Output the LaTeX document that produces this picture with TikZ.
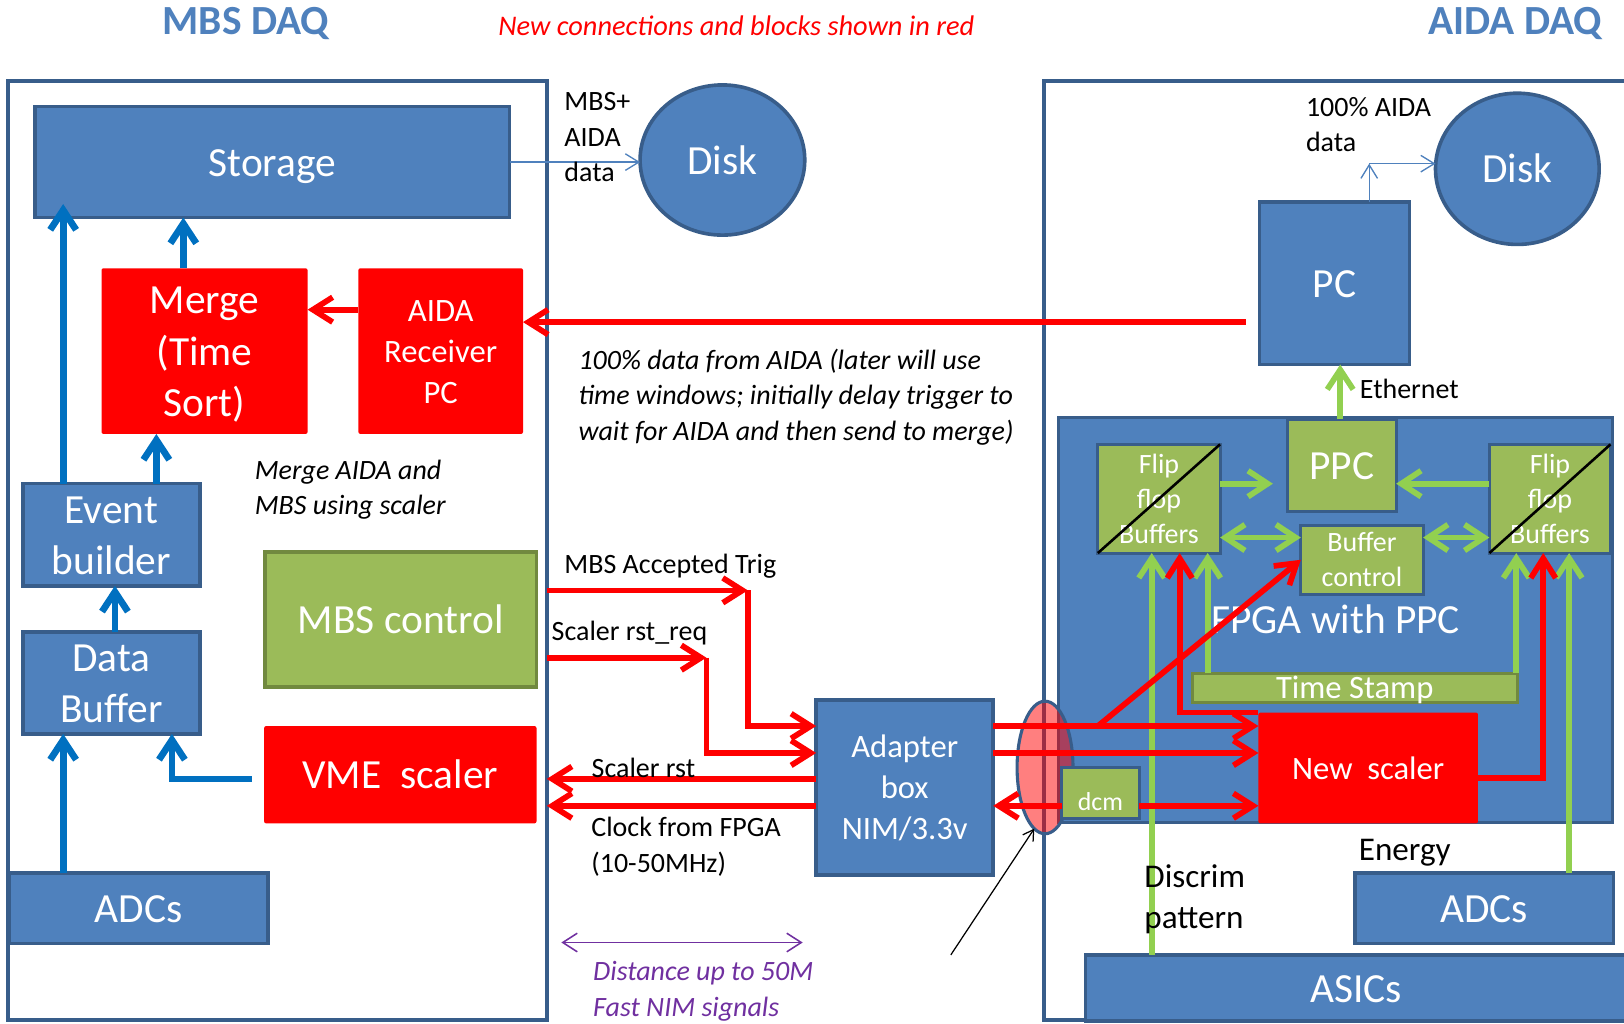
\documentclass[tikz,border=0pt]{standalone}
\usepackage{fontspec}
\setmainfont{Carlito}
\usetikzlibrary{arrows.meta,shapes.geometric}
\definecolor{bfill}{HTML}{4F81BD}
\definecolor{bline}{HTML}{385D8A}
\definecolor{gfill}{HTML}{9BBB59}
\definecolor{gline}{HTML}{71893F}
\definecolor{rfill}{HTML}{FF0000}
\definecolor{barrow}{HTML}{0070C0}
\definecolor{garrow}{HTML}{92D050}
\definecolor{purp}{HTML}{7030A0}
\newcommand\pst{\rule[-0.27em]{0pt}{1.22em}}
\begin{document}
\begin{tikzpicture}[x=1pt,y=-1pt,
  big/.style={font=\fontsize{40}{48.8}\selectfont},
  mid/.style={font=\fontsize{31.5}{38.4}\selectfont},
  small/.style={font=\fontsize{27}{32.9}\selectfont},
  smallit/.style={font=\fontsize{27}{32.9}\selectfont\itshape},
  box/.style={rectangle, inner sep=0pt, outer sep=0pt, anchor=north west, align=center, text=white, line width=3.5pt},
  frame/.style={rectangle, inner sep=0pt, outer sep=0pt, anchor=north west, draw=bline, line width=4pt},
  bluebox/.style={box, fill=bfill, draw=bline},
  greenbox/.style={box, fill=gfill, draw=gline},
  greenbbox/.style={box, fill=gfill, draw=bline, line width=3pt},
  redbox/.style={box, fill=rfill, rounded corners=2pt},
  disk/.style={ellipse, inner sep=0pt, outer sep=0pt, fill=bfill, draw=bline, line width=3.5pt, text=white},
  lbl/.style={inner sep=0pt, outer sep=0pt, anchor=north west, align=left},
  redarr/.style={draw=rfill, line width=5.5pt, -{Straight Barb[length=19pt,width=24pt]}},
  bluearr/.style={draw=barrow, line width=6.5pt, -{Straight Barb[length=19pt,width=25pt]}},
  greenarr/.style={draw=garrow, line width=5.5pt, -{Straight Barb[length=19pt,width=25pt]}},
  greendbl/.style={draw=garrow, line width=5.5pt, {Straight Barb[length=19pt,width=25pt]}-{Straight Barb[length=19pt,width=25pt]}},
  thinarr/.style={draw=bfill, line width=1.3pt, -{Straight Barb[length=13pt,width=16pt]}},
  purparr/.style={draw=purp, line width=1.5pt, {Straight Barb[length=14pt,width=18pt]}-{Straight Barb[length=14pt,width=18pt]}},
  blackarr/.style={draw=black, line width=1.2pt, -{Straight Barb[length=10pt,width=12pt]}}
]
\useasboundingbox (0,0) rectangle (1568,988);
\clip (0,0) rectangle (1568,988);

% titles
\node[anchor=base, font=\bfseries\fontsize{40}{48}\selectfont, text=bfill] (tmbs) at (237.5,33) {MBS DAQ};
\node[anchor=base, font=\bfseries\fontsize{40}{48}\selectfont, text=bfill] (taida) at (1463,33) {AIDA DAQ};
\node[anchor=base west, inner sep=0pt, font=\fontsize{27.4}{33}\selectfont\itshape, text=rfill] (tnew) at (481,34) {New connections and blocks shown in red};

% outer frames
\node[frame, minimum width=520pt, minimum height=907pt] (mbsbox) at (8,78) {};
\node[frame, minimum width=600pt, minimum height=907pt] (aidabox) at (1008,78) {};

% MBS side boxes
\node[bluebox, big, minimum width=458pt, minimum height=107pt] (storage) at (34,103) {\pst Storage};
\node[disk, big, minimum width=159pt, minimum height=145pt] (disk1) at (697.5,154.5) {\pst Disk};
\node[redbox, big, minimum width=199pt, minimum height=160pt] (merge) at (98,259) {\pst Merge\\\pst(Time\\\pst Sort)};
\node[redbox, mid, minimum width=159pt, minimum height=160pt] (recv) at (346,259) {\pst AIDA\\\pst Receiver\\\pst PC};
\node[bluebox, big, minimum width=171pt, minimum height=89pt] (event) at (22,467) {\pst Event\\\pst builder};
\node[bluebox, big, minimum width=171pt, minimum height=88pt] (databuf) at (22,610) {\pst Data\\\pst Buffer};
\node[bluebox, big, minimum width=250pt, minimum height=68pt] (adcs1) at (9,843) {\pst ADCs};
\node[greenbox, big, minimum width=262pt, minimum height=130pt] (mbsctl) at (256,533) {\pst MBS control};
\node[redbox, big, minimum width=263pt, minimum height=94pt] (vme) at (255,701) {\pst VME\ \ scaler};

% middle
\node[bluebox, mid, minimum width=171pt, minimum height=169pt] (adapter) at (788,676) {\pst Adapter\\\pst box\\\pst NIM/3.3v};

% AIDA side
\node[bluebox, big, minimum width=145pt, minimum height=157pt] (pc) at (1216,195) {\pst PC};
\node[disk, big, minimum width=158pt, minimum height=146pt] (disk2) at (1465,163) {\pst Disk};
\node[bluebox, big, minimum width=535pt, minimum height=391pt] (fpga) at (1022,403) {\pst FPGA with PPC};
\node[greenbbox, big, minimum width=105pt, minimum height=89pt] (ppc) at (1243,405) {\pst PPC};
\node[greenbbox, small, minimum width=118pt, minimum height=105pt] (ffl) at (1060,429) {\pst Flip\\\pst flop\\\pst Buffers};
\node[greenbbox, small, minimum width=117pt, minimum height=105pt] (ffr) at (1438,429) {\pst Flip\\\pst flop\\\pst Buffers};
\node[greenbbox, small, minimum width=118pt, minimum height=65pt] (bufctl) at (1256,507) {\pst Buffer\\\pst control};
\node[greenbox, mid, line width=3pt, minimum width=314pt, minimum height=28pt, text height=21.4pt, text depth=0pt] (tstamp) at (1151,650) {Time Stamp};
\node[redbox, mid, minimum width=212pt, minimum height=107pt] (newsc) at (1215,688) {\pst New\ \ scaler};
\node[bluebox, big, minimum width=250pt, minimum height=68pt] (adcs2) at (1308,843) {\pst ADCs};
\node[bluebox, big, minimum width=523pt, minimum height=64pt] (asics) at (1048,922) {\pst ASICs};

% connector ellipse and dcm
\node[ellipse, inner sep=0pt, outer sep=0pt, minimum width=54pt, minimum height=128pt, fill=rfill, fill opacity=0.5, draw=bline, draw opacity=1, line width=3pt] (ell) at (1009,741) {};
\node[greenbbox, font=\fontsize{25}{30}\selectfont, minimum width=75pt, minimum height=49pt, text height=40pt, text depth=6pt] (dcm) at (1025,741) {dcm};

% green connectors
\draw[greenarr] (asics.north -| 1112,0) -- (ffl.south -| 1112,0);
\draw[greenarr] (tstamp.north -| 1166,0) -- (ffl.south -| 1166,0);
\draw[greenarr] (tstamp.north -| 1464,0) -- (ffr.south -| 1464,0);
\draw[greenarr] (adcs2.north -| 1515,0) -- (ffr.south -| 1515,0);
\draw[greenarr, shorten >=14pt] (ffl.east |- 0,467) -- (ppc.west |- 0,467);
\draw[greenarr] (ffr.west |- 0,467) -- (ppc.east |- 0,467);
\draw[greendbl] (ffl.east |- 0,519) -- (bufctl.west |- 0,519);
\draw[greendbl] (bufctl.east |- 0,519) -- (ffr.west |- 0,519);
\draw[greenarr] (ppc.north -| 1294,0) -- (pc.south -| 1294,0);

% red connectors, MBS side
\coordinate (c1) at (722,570);
\coordinate (c2) at (682,635);
\draw[redarr] (recv.west |- 0,299) -- (merge.east |- 0,299);
\draw[redarr, shorten <=13pt] (pc.west |- 0,311) -- (recv.east |- 0,311);
\draw[redarr] (mbsbox.east |- c1) -- (c1);
\draw[redarr] (c1) -- (c1 |- 0,701) -- (adapter.west |- 0,701);
\draw[redarr] (mbsbox.east |- c2) -- (c2);
\draw[redarr] (c2) -- (c2 |- 0,727) -- (adapter.west |- 0,727);
\draw[redarr] (adapter.west |- 0,752) -- (mbsbox.east |- 0,752);
\draw[redarr] (adapter.west |- 0,778) -- (mbsbox.east |- 0,778);

% red connectors, AIDA side
\coordinate (dg) at (1060,701);
\draw[redarr] (adapter.east |- 0,701) -- (newsc.west |- 0,701);
\draw[redarr] (adapter.east |- 0,727) -- (newsc.west |- 0,727);
\draw[redarr] (dg) -- (bufctl.west);
\draw[redarr] (dcm.west |- 0,778) -- (adapter.east |- 0,778);
\draw[redarr] (dcm.east |- 0,778) -- (newsc.west |- 0,778);
\draw[redarr] (newsc.north west) -| (ffl.south -| 1139,0);
\draw[redarr] (newsc.east |- 0,751) -| (ffr.south -| 1490,0);

% blue connectors
\draw[bluearr] (adcs1.north -| 61,0) -- (databuf.south -| 61,0);
\draw[bluearr, shorten <=12pt] (vme.west |- 0,752) -| (databuf.south -| 166,0);
\draw[bluearr] (databuf.north -| 111,0) -- (event.south -| 111,0);
\draw[bluearr, shorten >=-13pt] (event.north -| 61,0) -- (storage.south -| 61,0);
\draw[bluearr] (event.north -| 151,0) -- (merge.south -| 151,0);
\draw[bluearr] (merge.north -| 177,0) -- (storage.south -| 177,0);

% thin connectors
\coordinate (pcup) at (1322,158);
\draw[thinarr] (storage.east) -- (disk1.west |- storage.east);
\draw[thinarr] (pc.north -| pcup) -- (pcup);
\draw[thinarr] (pcup) -- (disk2.west |- pcup);

% flip-flop diagonals
\draw[line width=2.5pt] (ffl.south west) -- (ffl.north east);
\draw[line width=2.5pt] (ffr.south west) -- (ffr.north east);

% annotation arrow and distance arrow
\coordinate (annot) at (918,922);
\draw[blackarr] (annot) -- (ell.-100);
\coordinate (d1) at (542,910);
\coordinate (d2) at (775,910);
\draw[purparr] (d1) -- (d2);

% labels
\node[lbl, small] (lmbsaida) at (545,81.4) {\pst MBS+\\\pst AIDA\\\pst data};
\node[lbl, smallit] (laida) at (558.6,331.4) {\pst 100\% data from AIDA (later will use\\\pst time windows; initially delay trigger to\\\pst wait for AIDA and then send to merge)};
\node[lbl, smallit] (lmerge) at (246,437.4) {\pst Merge AIDA and\\\pst MBS using scaler};
\node[lbl, small] (ltrig) at (545,528.4) {\pst MBS Accepted Trig};
\node[lbl, small] (lreq) at (532.7,593) {\pst Scaler rst\_req};
\node[lbl, small] (lrst) at (571.3,725.4) {\pst Scaler rst};
\node[lbl, small] (lclock) at (571,782.4) {\pst Clock from FPGA\\\pst (10-50MHz)};
\node[lbl, smallit, text=purp] (ldist) at (572.7,921.4) {\pst Distance up to 50M\\\pst Fast NIM signals};
\node[lbl, small] (laida100) at (1261,87) {\pst 100\% AIDA\\\pst data};
\node[lbl, small] (leth) at (1313,359) {\pst Ethernet};
\node[lbl, font=\fontsize{32}{39}\selectfont] (lenergy) at (1312,800.1) {\rule[-0.27em]{0pt}{1.22em}Energy};
\node[lbl, font=\fontsize{32}{39}\selectfont] (ldiscrim) at (1105,826.2) {\pst Discrim\\\pst pattern};
\end{tikzpicture}
\end{document}
